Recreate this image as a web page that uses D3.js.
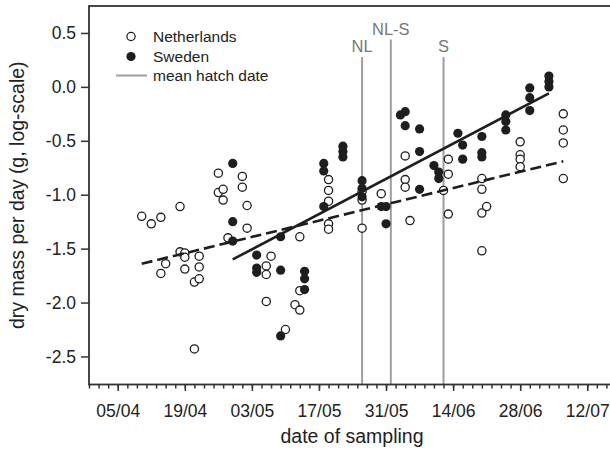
<!DOCTYPE html>
<html>
<head>
<meta charset="utf-8">
<script src="https://cdn.jsdelivr.net/npm/d3@7"></script>
<style>
  body { margin: 0; background: #fff; }
  svg { display: block; font-family: "Liberation Sans", Arial, Helvetica, sans-serif; }
</style>
</head>
<body>
<svg id="chart"></svg>
<script>
// sampling date (dd/mm) and dry mass per day (g, log-scale)
const netherlands = [
  ["10/04", -1.20], ["12/04", -1.27], ["14/04", -1.21], ["14/04", -1.73], ["15/04", -1.64],
  ["18/04", -1.11], ["18/04", -1.53], ["19/04", -1.54], ["19/04", -1.58], ["19/04", -1.69],
  ["21/04", -1.81], ["21/04", -2.43], ["22/04", -1.57], ["22/04", -1.67], ["22/04", -1.78],
  ["26/04", -0.80], ["26/04", -0.98], ["27/04", -0.95], ["27/04", -1.05], ["28/04", -1.40],
  ["01/05", -0.83], ["01/05", -0.93], ["02/05", -1.10], ["02/05", -1.31],
  ["06/05", -1.66], ["06/05", -1.74], ["06/05", -1.99], ["07/05", -1.57], ["10/05", -2.25],
  ["12/05", -2.02], ["13/05", -1.39], ["13/05", -1.89], ["13/05", -2.07],
  ["19/05", -0.86], ["19/05", -0.96], ["19/05", -1.06], ["19/05", -1.27], ["19/05", -1.32],
  ["26/05", -0.97], ["26/05", -1.05], ["26/05", -1.31], ["30/05", -0.99],
  ["04/06", -0.64], ["04/06", -0.86], ["04/06", -0.93], ["05/06", -1.24],
  ["12/06", -0.96], ["13/06", -0.67], ["13/06", -0.81], ["13/06", -1.18],
  ["20/06", -0.85], ["20/06", -0.95], ["20/06", -1.17], ["20/06", -1.52], ["21/06", -1.11],
  ["28/06", -0.51], ["28/06", -0.63], ["28/06", -0.67], ["28/06", -0.74],
  ["07/07", -0.25], ["07/07", -0.40], ["07/07", -0.52], ["07/07", -0.85]
];

const sweden = [
  ["29/04", -0.71], ["29/04", -1.25], ["29/04", -1.43],
  ["04/05", -1.56], ["04/05", -1.68], ["04/05", -1.72],
  ["09/05", -1.39], ["09/05", -1.70], ["09/05", -2.31],
  ["14/05", -1.71], ["14/05", -1.78], ["14/05", -1.88],
  ["18/05", -0.71], ["18/05", -0.78], ["18/05", -1.11],
  ["22/05", -0.55], ["22/05", -0.60], ["22/05", -0.65],
  ["26/05", -0.87], ["26/05", -0.94], ["26/05", -1.02],
  ["30/05", -1.11], ["31/05", -1.11], ["31/05", -1.27],
  ["03/06", -0.26], ["04/06", -0.23], ["04/06", -0.36],
  ["07/06", -0.39], ["07/06", -0.60], ["07/06", -0.95],
  ["10/06", -0.73], ["11/06", -0.79], ["11/06", -0.85],
  ["15/06", -0.43], ["16/06", -0.54], ["16/06", -0.67],
  ["20/06", -0.46], ["20/06", -0.61], ["20/06", -0.65],
  ["25/06", -0.26], ["25/06", -0.32], ["25/06", -0.40],
  ["30/06", -0.01], ["30/06", -0.10], ["30/06", -0.22],
  ["04/07", 0.10], ["04/07", 0.05], ["04/07", 0.00]
];

// regression lines, end points
const nlFit = [["10/04", -1.64], ["07/07", -0.69]];
const seFit = [["29/04", -1.60], ["04/07", -0.06]];

// mean hatch dates
const hatchLabels = ["NL", "NL-S", "S"];
const hatchDates = ["26/05", "01/06", "12/06"];

// axes
const xDomain = ["30/03", "18/07"];
const xTickLabels = ["05/04", "19/04", "03/05", "17/05", "31/05", "14/06", "28/06", "12/07"];
const yDomain = [-2.76, 0.75];
const yTicks = [-2.5, -2.0, -1.5, -1.0, -0.5, 0.0, 0.5];

const width = 610, height = 450;
const parseDate = d3.timeParse("%d/%m");
const ink = "#1e1e1e";
const frameCol = "#333";

const svg = d3.select("#chart").attr("width", width).attr("height", height);

const x = d3.scaleTime()
  .domain(xDomain.map(parseDate))
  .range([89, 616]);

const y = d3.scaleLinear()
  .domain(yDomain)
  .range([384.5, 6]);

const x0 = x.range()[0], y0 = y.range()[0], yTop = y.range()[1];

// mean hatch date lines (behind the points)
const hatch = svg.append("g");
hatch.selectAll("line")
  .data(hatchDates)
  .enter()
  .append("line")
  .attr("x1", d => x(parseDate(d)))
  .attr("x2", d => x(parseDate(d)))
  .attr("y1", (d, i) => i === 1 ? 39.5 : 57)
  .attr("y2", y0)
  .attr("stroke", "#9e9e9e")
  .attr("stroke-width", 2);
hatch.selectAll("text")
  .data(hatchDates)
  .enter()
  .append("text")
  .attr("x", d => x(parseDate(d)))
  .attr("y", (d, i) => i === 1 ? 34.5 : 52)
  .attr("text-anchor", "middle")
  .attr("font-size", "16.5px")
  .attr("fill", "#777")
  .text((d, i) => hatchLabels[i]);

// frame
svg.append("rect")
  .attr("x", x0)
  .attr("y", yTop)
  .attr("width", 540)
  .attr("height", y0 - yTop)
  .attr("fill", "none")
  .attr("stroke", frameCol)
  .attr("stroke-width", 1.8);

// x axis: minor ticks every 2 days, labelled ticks every 14 days
const xMinor = d3.timeDay.range(x.domain()[0], x.domain()[1], 2);
const gxMinor = svg.append("g")
  .attr("transform", `translate(0,${y0})`)
  .call(d3.axisBottom(x).tickValues(xMinor).tickSize(4).tickFormat(""));
const gx = svg.append("g")
  .attr("transform", `translate(0,${y0})`)
  .call(d3.axisBottom(x)
    .tickValues(xTickLabels.map(parseDate))
    .tickSize(6.5)
    .tickPadding(13.5)
    .tickFormat(d3.timeFormat("%d/%m")));

// y axis
const gy = svg.append("g")
  .attr("transform", `translate(${x0},0)`)
  .call(d3.axisLeft(y)
    .tickValues(yTicks)
    .tickSize(8)
    .tickPadding(5)
    .tickFormat(d => d.toFixed(1)));

[gxMinor, gx, gy].forEach(g => {
  g.select(".domain").remove();
  g.selectAll(".tick line").attr("stroke", frameCol).attr("stroke-width", 1.5);
  g.selectAll(".tick text")
    .attr("fill", "#222")
    .attr("font-size", "17.5px")
    .attr("font-family", "Liberation Sans, Arial, sans-serif");
});

// points
svg.append("g")
  .selectAll("circle")
  .data(netherlands)
  .enter()
  .append("circle")
  .attr("cx", d => x(parseDate(d[0])))
  .attr("cy", d => y(d[1]))
  .attr("r", 4.1)
  .attr("fill", "#fff")
  .attr("stroke", ink)
  .attr("stroke-width", 1.3);

svg.append("g")
  .selectAll("circle")
  .data(sweden)
  .enter()
  .append("circle")
  .attr("cx", d => x(parseDate(d[0])))
  .attr("cy", d => y(d[1]))
  .attr("r", 4.6)
  .attr("fill", ink);

// regression lines
const line = d3.line()
  .x(d => x(parseDate(d[0])))
  .y(d => y(d[1]));

svg.append("path")
  .attr("d", line(nlFit))
  .attr("fill", "none")
  .attr("stroke", ink)
  .attr("stroke-width", 2.6)
  .attr("stroke-dasharray", "11,5");

svg.append("path")
  .attr("d", line(seFit))
  .attr("fill", "none")
  .attr("stroke", ink)
  .attr("stroke-width", 2.6);

// legend
const legend = svg.append("g").attr("font-size", "15.5px").attr("fill", "#222");
legend.append("circle").attr("cx", 131).attr("cy", 36.5).attr("r", 4.1)
  .attr("fill", "#fff").attr("stroke", ink).attr("stroke-width", 1.3);
legend.append("circle").attr("cx", 131).attr("cy", 56.5).attr("r", 4.6).attr("fill", ink);
legend.append("line").attr("x1", 116).attr("x2", 147).attr("y1", 75.5).attr("y2", 75.5)
  .attr("stroke", "#9e9e9e").attr("stroke-width", 2);
legend.append("text").attr("x", 153).attr("y", 41.5).text("Netherlands");
legend.append("text").attr("x", 153).attr("y", 61.5).text("Sweden");
legend.append("text").attr("x", 153).attr("y", 80.5).text("mean hatch date");

// axis titles
svg.append("text")
  .attr("x", 352)
  .attr("y", 443)
  .attr("text-anchor", "middle")
  .attr("font-size", "19.5px")
  .attr("fill", "#222")
  .text("date of sampling");

svg.append("text")
  .attr("transform", `translate(24,${(y0 + yTop) / 2}) rotate(-90)`)
  .attr("text-anchor", "middle")
  .attr("font-size", "19.5px")
  .attr("fill", "#222")
  .text("dry mass per day (g, log-scale)");
</script>
</body>
</html>
